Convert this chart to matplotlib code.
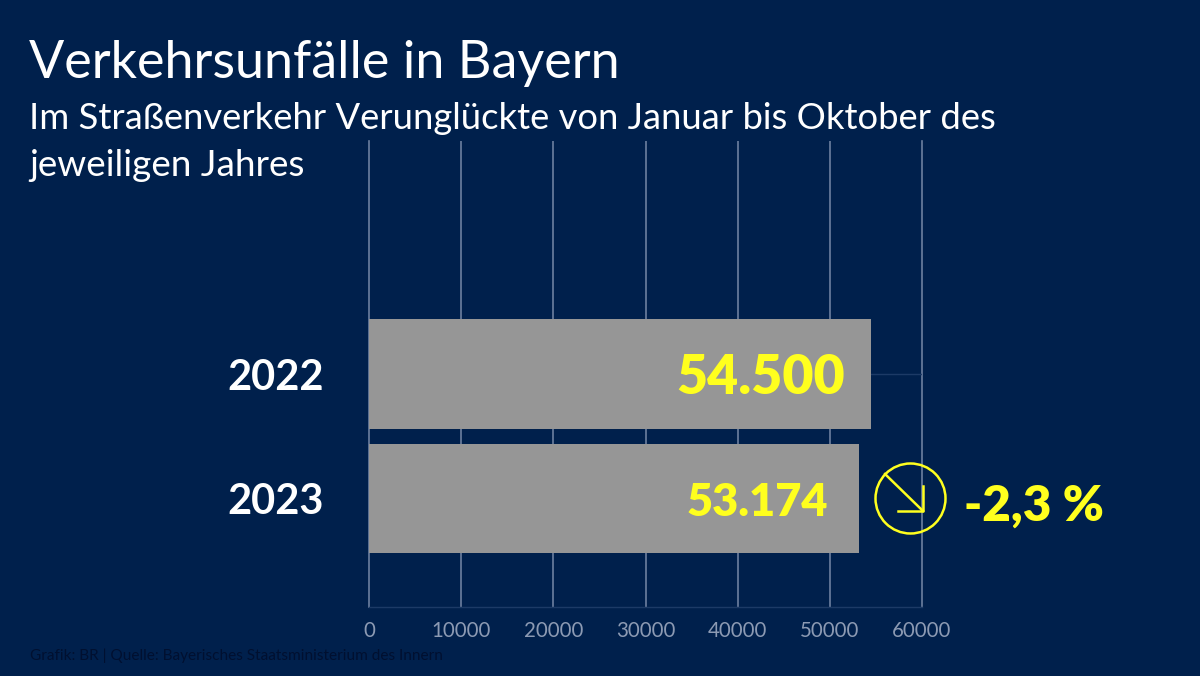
"""Verkehrsunfaelle in Bayern: horizontal bars on a dark BR background."""

import matplotlib

matplotlib.use("Agg")
import matplotlib.pyplot as plt
from matplotlib.patches import Circle

YEARS = ["2022", "2023"]
VALUES = [54500, 53174]
VALUE_LABELS = ["54.500", "53.174"]
X_TICKS = [0, 10000, 20000, 30000, 40000, 50000, 60000]
CHANGE_LABEL = "-2,3 %"

W, H = 1200, 676
BG = "#00204c"
GRID = "#6d7f9f"
BAR = "#969696"
YELLOW = "#ffff1e"
FONT = "Lato"

plt.rcParams["font.family"] = [FONT, "DejaVu Sans"]

fig = plt.figure(figsize=(W / 100, H / 100), dpi=100, facecolor=BG)

# plot area in pixels: x 369-922, y 141-607
ax = fig.add_axes([369 / W, 1 - 607 / H, (922 - 369) / W, (607 - 141) / H], facecolor=BG)
ax.set_xlim(0, 60000)
ax.set_ylim(1.87, -1.87)
ax.set_xticks(X_TICKS)
ax.set_yticks([])
ax.tick_params(axis="x", length=0, pad=10, labelsize=14.8, labelcolor="#8c9ab3")
ax.grid(axis="x", color=GRID, lw=1.2, zorder=1)
ax.set_axisbelow(True)
for name, spine in ax.spines.items():
    spine.set_visible(name == "bottom")
    spine.set_color("#1c3a66")
    spine.set_linewidth(1)
ax.xaxis.get_major_ticks()[0].gridline.set_clip_on(False)
ax.xaxis.get_major_ticks()[-1].gridline.set_clip_on(False)

ax.hlines(0, 0, 60000, color="#1c3a66", lw=1, zorder=1)
ax.barh(range(len(YEARS)), VALUES, height=0.88, color=BAR, zorder=2)

# year labels on the left, values inside the bars
VALUE_SIZES = [38.6, 32.5]
for i, (year, value, label) in enumerate(zip(YEARS, VALUES, VALUE_LABELS)):
    ax.text(-45 / 553 * 60000, i, year, color="white", fontsize=30, fontweight="bold",
            ha="right", va="center_baseline", zorder=3)
    offset = 26 if i == 0 else 31
    ax.text(value - offset / 553 * 60000, i, label, color=YELLOW, fontsize=VALUE_SIZES[i],
            fontweight="heavy", ha="right", va="center_baseline", zorder=3)

# overlay in image pixels for the change icon
over = fig.add_axes([0, 0, 1, 1], facecolor="none")
over.set_xlim(0, W)
over.set_ylim(H, 0)
over.axis("off")
over.add_patch(Circle((910.5, 498.5), 35, fill=False, ec=YELLOW, lw=1.8))
over.plot([885, 923], [474, 511], color=YELLOW, lw=1.8)
over.plot([898, 923, 923], [511, 511, 486], color=YELLOW, lw=1.8)
over.text(964, 502, CHANGE_LABEL, color=YELLOW, fontsize=35.5, fontweight="heavy",
          ha="left", va="center_baseline")

fig.text(29 / W, 1 - 78 / H, "Verkehrsunfälle in Bayern", color="white", fontsize=37.5)
fig.text(29 / W, 1 - 129 / H, "Im Straßenverkehr Verunglückte von Januar bis Oktober des",
         color="white", fontsize=26.2)
fig.text(29 / W, 1 - 176 / H, "jeweiligen Jahres", color="white", fontsize=26.6)
fig.text(30 / W, 1 - 660 / H, "Grafik: BR | Quelle: Bayerisches Staatsministerium des Innern",
         color="#001030", fontsize=11.1)

fig.savefig("out.png", dpi=100, facecolor=BG)
